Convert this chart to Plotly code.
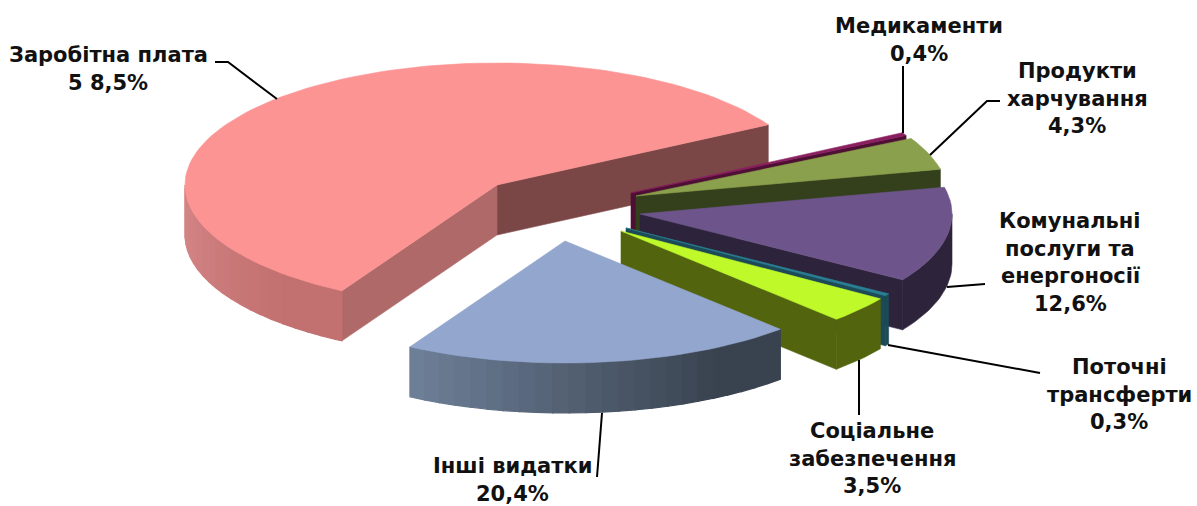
import math
import plotly.graph_objects as go

# ---- data ----
categories = [["Заробітна плата"], ["Інші видатки"], ["Соціальне", "забезпечення"], ["Поточні", "трансферти"],
              ["Комунальні", "послуги та", "енергоносії"], ["Продукти", "харчування"], ["Медикаменти"]]
values = [58.5, 20.4, 3.5, 0.3, 12.6, 4.3, 0.4]
value_labels = ["5 8,5%", "20,4%", "3,5%", "0,3%", "12,6%", "4,3%", "0,4%"]

# ---- style / layout ----
top_colors = ["#FC9494", "#93A6CE", "#C0F92A", "#2A7F94", "#6D558C", "#8AA04C", "#8A1F5F"]
start_wall = ["#7A4746", "#5A6680", "#53640F", "#1C4A56", "#2D233A", "#34401C", "#4F0F35"]
end_wall = ["#AE6968", "#5A6680", "#53640F", "#1C4A56", "#2D233A", "#34401C", "#4F0F35"]
side_left = ["#D68888", "#6E8099", "#53640F", "#1C4A56", "#2D233A", "#34401C", "#4F0F35"]
side_right = ["#C27070", "#39434F", "#53640F", "#1C4A56", "#2D233A", "#34401C", "#4F0F35"]
apex = [(497, 185), (565, 241), (621, 231), (626, 228), (640, 214), (636, 196), (631, 193)]
draw_order = [0, 6, 5, 4, 3, 2, 1]
label_x = [108, 512, 872, 1119, 1070, 1077, 919]
label_y0 = [55, 466, 431, 367, 221, 71, 26]
label_dy = 27.5
leaders = [
    [(215, 62), (228, 62), (277, 99)],
    [(602, 413), (597, 477)],
    [(859, 360), (859, 415)],
    [(888, 345), (1040, 373)],
    [(947, 287), (985, 284)],
    [(930, 155), (987, 101), (1000, 101)],
    [(903, 133), (903, 66)],
]
RX, RY, DEPTH = 312, 122, 50
START = 29.6
FONT = dict(family="DejaVu Sans", size=21, color="#111111")


def mix(c1, c2, t):
    a = [int(c1[i:i + 2], 16) for i in (1, 3, 5)]
    b = [int(c2[i:i + 2], 16) for i in (1, 3, 5)]
    return "#" + "".join(f"{round(x + (y - x) * t):02X}" for x, y in zip(a, b))


def pt(c, deg):
    r = math.radians(deg)
    return c[0] + RX * math.cos(r), c[1] - RY * math.sin(r)


fig = go.Figure()


def poly(points, color, width=0.6):
    xs = [p[0] for p in points] + [points[0][0]]
    ys = [p[1] for p in points] + [points[0][1]]
    fig.add_trace(go.Scatter(x=xs, y=ys, mode="lines", fill="toself", fillcolor=color,
                             line=dict(color=color, width=width), hoverinfo="skip", showlegend=False))


# angular span of each slice, derived from the values
spans = []
cursor = START
for v in values:
    sweep = v / sum(values) * 360
    spans.append((cursor, cursor + sweep))
    cursor += sweep

for i in draw_order:
    a, b = spans[i]
    c = apex[i]
    down = (c[0], c[1] + DEPTH)
    # radial walls
    if math.cos(math.radians(a)) > 0:
        p = pt(c, a)
        poly([c, p, (p[0], p[1] + DEPTH), down], start_wall[i])
    if math.cos(math.radians(b)) < 0:
        p = pt(c, b)
        poly([c, p, (p[0], p[1] + DEPTH), down], end_wall[i])
    # outer rim: only the part that faces the viewer
    steps = max(2, int((b - a) / 1.5))
    grid = [a + (b - a) * k / steps for k in range(steps + 1)]
    for k in [180, 360]:
        if a < k < b:
            grid = sorted(grid + [k])
    vis = [g for g in grid if math.sin(math.radians(g)) < -1e-9 or g in (180, 360)]
    if len(vis) >= 2:
        if side_left[i] == side_right[i]:
            rim = [pt(c, g) for g in vis]
            poly(rim + [(p[0], p[1] + DEPTH) for p in reversed(rim)], side_left[i])
        else:
            band = 2
            for k in range(0, len(vis) - 1, band):
                g0, g1 = vis[k], vis[min(k + band, len(vis) - 1)]
                sub = [g for g in vis if g0 <= g <= g1]
                rim = [pt(c, g) for g in sub]
                t = min(1, ((g0 + g1) / 2 - vis[0]) / (vis[-1] - vis[0]) / 0.8)
                poly(rim + [(p[0], p[1] + DEPTH) for p in reversed(rim)],
                     mix(side_left[i], side_right[i], t), width=1.2)
    # top face
    steps = max(3, int((b - a) / 2))
    poly([c] + [pt(c, a + (b - a) * k / steps) for k in range(steps + 1)], top_colors[i])

for pts in leaders:
    fig.add_trace(go.Scatter(x=[p[0] for p in pts], y=[p[1] for p in pts], mode="lines",
                             line=dict(color="#000000", width=2), hoverinfo="skip", showlegend=False))

for lines, val, x, y0 in zip(categories, value_labels, label_x, label_y0):
    for n, line in enumerate(lines + [val]):
        fig.add_annotation(x=x, y=y0 + n * label_dy, text=f"<b>{line}</b>", showarrow=False, font=FONT,
                           xanchor="center", yanchor="middle", align="center")

fig.update_xaxes(range=[0, 1197], visible=False, fixedrange=True)
fig.update_yaxes(range=[506, 0], visible=False, fixedrange=True)
fig.update_layout(width=1197, height=506, margin=dict(l=0, r=0, t=0, b=0),
                  paper_bgcolor="white", plot_bgcolor="white", showlegend=False)
fig.write_html("out.html", config=dict(displayModeBar=False),
               post_script="document.body.style.margin='0';document.body.style.overflow='hidden';")
